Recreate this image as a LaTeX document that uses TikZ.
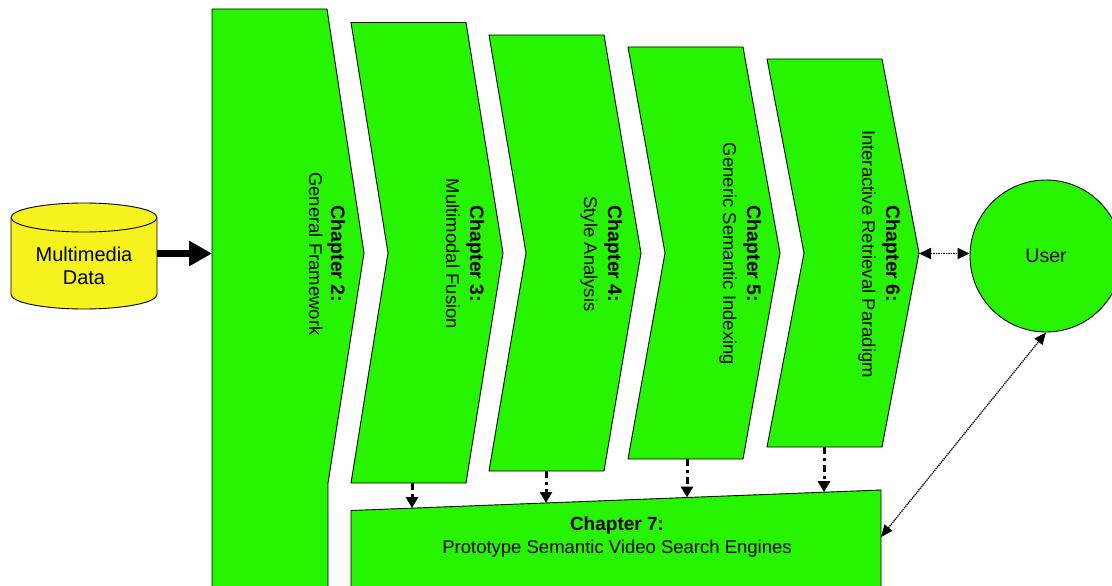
\documentclass[tikz,border=0pt]{standalone}
\usepackage{fontspec}
\setmainfont{Liberation Sans}
\usetikzlibrary{arrows.meta}
\definecolor{chgreen}{RGB}{38,244,0}
\definecolor{dbyellow}{RGB}{245,242,30}
\begin{document}
\begin{tikzpicture}[x=1pt,y=-1pt,
  chap/.style={draw=black,line width=0.9pt,fill=chgreen,line join=miter},
  chaphead/.style={rotate=-90,anchor=base,inner sep=0pt,font=\fontsize{19.5}{23}\selectfont\bfseries},
  chapsub/.style={rotate=-90,anchor=base,inner sep=0pt,font=\fontsize{18.5}{22}\selectfont},
  plain/.style={anchor=base,inner sep=0pt,font=\fontsize{19.5}{23}\selectfont},
  feedarrow/.style={line width=3pt,dash pattern=on 7pt off 4pt on 3pt off 4pt,
    -{Triangle[length=11pt,width=12pt]}},
  userlink/.style={line width=1.8pt,dash pattern=on 1.5pt off 1pt,
    {Triangle[length=12pt,width=11pt]}-{Triangle[length=12pt,width=11pt]}},
  enginelink/.style={line width=1.3pt,dash pattern=on 1.3pt off 0.8pt,
    {Triangle[length=12pt,width=10pt]}-{Triangle[length=12pt,width=10pt]}},
]
\clip (0,0) rectangle (1112,586);

% database cylinder
\filldraw[fill=dbyellow,line width=0.9pt]
  (11,217.5) -- (11,294.5) arc[start angle=180,end angle=360,x radius=73pt,y radius=14.5pt]
  -- (157,217.5) arc[start angle=0,end angle=180,x radius=73pt,y radius=14.5pt] -- cycle;
\draw[line width=0.9pt] (11,217.5) arc[start angle=180,end angle=360,x radius=73pt,y radius=14.5pt];
\node[plain,font=\fontsize{20}{23}\selectfont] (data1) at (84,261.5) {Multimedia};
\node[plain,font=\fontsize{20}{23}\selectfont] (data2) at (84,284) {Data};
\coordinate (dataE) at (157,253.5);

% chapter 2 block
\filldraw[chap] (212,9) -- (327,9) -- (364,253) -- (328,483) -- (328,600) -- (212,600) -- cycle;
\coordinate (ch2W) at (212,253.5);
\node[chaphead] (c2h) at (331,254) {Chapter 2:};
\node[chapsub]  (c2s) at (309,254) {General Framework};

% chapters 3 to 6
\filldraw[chap] (351,22.5) -- (466,22.5) -- (503,253) -- (466,483) -- (351,483) -- (388,253) -- cycle;
\filldraw[chap] (489,35) -- (604,35) -- (641,253) -- (604,471) -- (489,471) -- (526,253) -- cycle;
\filldraw[chap] (628,47) -- (743,47) -- (780,253) -- (743,459) -- (628,459) -- (665,253) -- cycle;
\filldraw[chap] (767,59) -- (882,59) -- (919,253) -- (882,447) -- (767,447) -- (804,253) -- cycle;

\node[chaphead] (c3h) at (470,254) {Chapter 3:};
\node[chapsub]  (c3s) at (446,254) {Multimodal Fusion};
\node[chaphead] (c4h) at (608,254) {Chapter 4:};
\node[chapsub]  (c4s) at (584,254) {Style Analysis};
\node[chaphead] (c5h) at (747,254) {Chapter 5:};
\node[chapsub]  (c5s) at (723,254) {Generic Semantic Indexing};
\node[chaphead] (c6h) at (886,254) {Chapter 6:};
\node[chapsub]  (c6s) at (862,254) {Interactive Retrieval Paradigm};

\coordinate (c3b) at (412,483);
\coordinate (c4b) at (546,471);
\coordinate (c5b) at (687,459);
\coordinate (c6b) at (824,447);
\coordinate (c6tip) at (919,253.5);

% chapter 7 block
\filldraw[chap] (351,510.5) -- (881,490) -- (881,600) -- (351,600) -- cycle;
\node[plain,font=\fontsize{19}{23}\selectfont\bfseries] (c7h) at (617,530.5) {Chapter 7:};
\node[plain,font=\fontsize{18.5}{22}\selectfont] (c7s) at (617,553) {Prototype Semantic Video Search Engines};
\coordinate (c7a) at (412,508.1);
\coordinate (c7b) at (546,503.0);
\coordinate (c7c) at (687,497.5);
\coordinate (c7d) at (824,492.2);
\coordinate (c7r) at (881,537);

% user
\node[circle,draw=black,line width=0.9pt,fill=chgreen,minimum size=152pt,inner sep=0pt,
  font=\fontsize{19.5}{23}\selectfont] (user) at (1046,256) {User};

% connectors
\draw[line width=7pt,-{Triangle[length=23pt,width=24pt]}] (dataE) -- (ch2W);
\draw[feedarrow] (c3b) -- (c7a);
\draw[feedarrow] (c4b) -- (c7b);
\draw[feedarrow] (c5b) -- (c7c);
\draw[feedarrow] (c6b) -- (c7d);
\draw[userlink] (c6tip) -- (c6tip -| user.west);
\draw[enginelink] (c7r) -- (user.south);
\end{tikzpicture}
\end{document}
